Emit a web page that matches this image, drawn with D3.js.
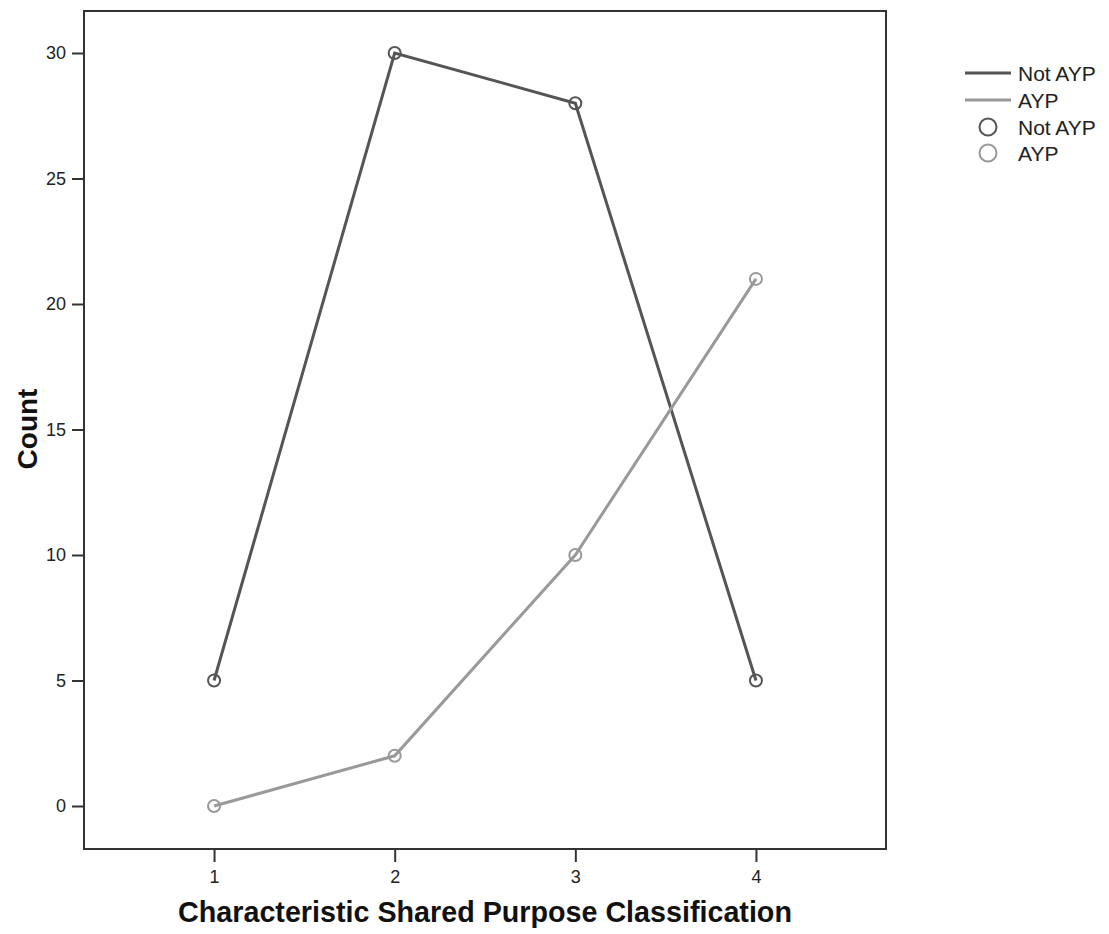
<!DOCTYPE html>
<html><head><meta charset="utf-8">
<script src="https://cdn.jsdelivr.net/npm/d3@7"></script>
<style>body{margin:0;background:#fff;} text{font-family:Arial,"Liberation Sans",sans-serif;}</style>
</head><body>
<svg id="c" width="1109" height="934"></svg>
<script>
const categories = [1, 2, 3, 4];
const notAYP = [5, 30, 28, 5];
const ayp = [0, 2, 10, 21];
const yTicks = [0, 5, 10, 15, 20, 25, 30];
const seriesNames = ["Not AYP", "AYP"];
const colors = ["#555555", "#999999"];

const svg = d3.select("#c");
const L = 84, R = 886, T = 11, B = 849;
const x = d3.scaleLinear().domain([0.28, 4.72]).range([L, R]);
const y = d3.scaleLinear().domain([0, 30]).range([806, 53]);

svg.append("rect").attr("x", L).attr("y", T).attr("width", R - L).attr("height", B - T)
  .attr("fill", "none").attr("stroke", "#333").attr("stroke-width", 2);

const yAxis = svg.append("g").attr("transform", `translate(${L},0)`)
  .call(d3.axisLeft(y).tickValues(yTicks).tickSize(12).tickPadding(6));
yAxis.select(".domain").remove();
yAxis.selectAll("line").attr("stroke", "#333").attr("stroke-width", 2);
yAxis.selectAll("text").attr("font-size", 18).attr("fill", "#222");

const xAxis = svg.append("g").attr("transform", `translate(0,${B})`)
  .call(d3.axisBottom(x).tickValues(categories).tickFormat(d3.format("d")).tickSize(13).tickPadding(8));
xAxis.select(".domain").remove();
xAxis.selectAll("line").attr("stroke", "#333").attr("stroke-width", 2);
xAxis.selectAll("text").attr("font-size", 18).attr("fill", "#222");

svg.append("text").attr("x", 485).attr("y", 922).attr("text-anchor", "middle")
  .attr("font-size", 28.7).attr("font-weight", "bold").attr("fill", "#111")
  .text("Characteristic Shared Purpose Classification");
svg.append("text").attr("transform", "translate(37,429) rotate(-90)").attr("text-anchor", "middle")
  .attr("font-size", 28).attr("font-weight", "bold").attr("fill", "#111").text("Count");

const series = [notAYP, ayp];
const line = d3.line().x((d, i) => x(categories[i])).y(d => y(d));
series.forEach((s, k) => {
  svg.append("path").datum(s).attr("d", line).attr("fill", "none")
    .attr("stroke", colors[k]).attr("stroke-width", 3);
});
series.forEach((s, k) => {
  svg.selectAll(null).data(s).enter().append("circle")
    .attr("cx", (d, i) => x(categories[i])).attr("cy", d => y(d)).attr("r", 6)
    .attr("fill", "none").attr("stroke", colors[k]).attr("stroke-width", 2);
});

// legend
const lg = svg.append("g");
seriesNames.forEach((n, k) => {
  const yy = 73 + k * 27;
  lg.append("line").attr("x1", 965).attr("x2", 1011).attr("y1", yy).attr("y2", yy)
    .attr("stroke", colors[k]).attr("stroke-width", 3);
  lg.append("text").attr("x", 1018).attr("y", yy + 7.5).attr("font-size", 21).attr("fill", "#222").text(n);
});
seriesNames.forEach((n, k) => {
  const yy = 127 + k * 26;
  lg.append("circle").attr("cx", 988).attr("cy", yy).attr("r", 8.5)
    .attr("fill", "none").attr("stroke", colors[k]).attr("stroke-width", 2);
  lg.append("text").attr("x", 1018).attr("y", yy + 7.5).attr("font-size", 21).attr("fill", "#222").text(n);
});
</script>
</body></html>
